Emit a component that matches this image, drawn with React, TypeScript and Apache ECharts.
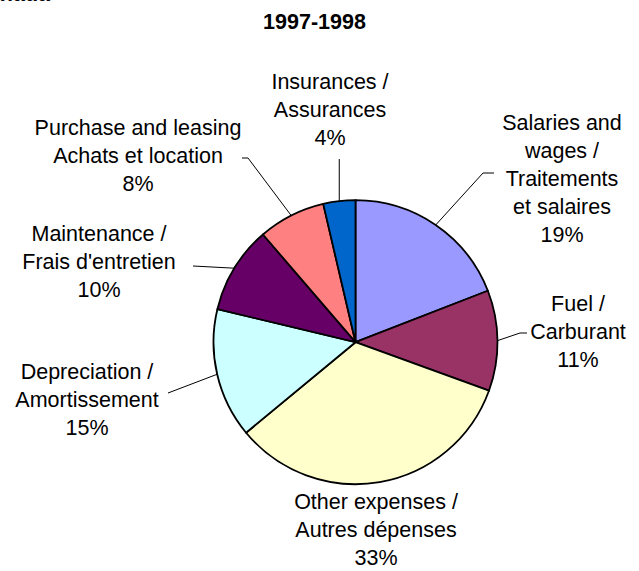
import React, { useEffect, useRef } from "react";
import * as echarts from "echarts";

const TITLE = "1997-1998";
const CUT_TITLE = "Canada";

const categories = [
  "Salaries and\nwages /\nTraitements\net salaires",
  "Fuel /\nCarburant",
  "Other expenses /\nAutres dépenses",
  "Depreciation /\nAmortissement",
  "Maintenance /\nFrais d'entretien",
  "Purchase and leasing\nAchats et location",
  "Insurances /\nAssurances",
];
const values = [19.1, 11.45, 33.45, 14.75, 9.95, 7.65, 3.65];
const colors = ["#9999FF", "#993366", "#FFFFCC", "#CCFFFF", "#660066", "#FF8080", "#0066CC"];

// label block centres and leader-line bends (layout only)
const labelPos: { x: number; y: number; line: number[][] | null; vertical?: number }[] = [
  { x: 562, y: 179, line: [[483, 173], [494, 173]] },
  { x: 578, y: 332, line: [[520, 333], [527, 333]] },
  { x: 376, y: 530, line: null },
  { x: 87, y: 399.5, line: [[168, 393]] },
  { x: 99, y: 261.5, line: [[193, 266]] },
  { x: 138, y: 156, line: [[248, 158], [242, 158]] },
  { x: 330, y: 109.5, line: [], vertical: 159 },
];

const FONT = "'Liberation Sans', Arial, Helvetica, sans-serif";

export default function App() {
  const ref = useRef<HTMLDivElement>(null);
  useEffect(() => {
    document.body.style.margin = "0";
    const chart = echarts.init(ref.current!, undefined, { renderer: "svg" });
    chart.setOption({
      animation: false,
      backgroundColor: "#ffffff",
      graphic: [
        {
          type: "text",
          x: 314.5,
          y: 22,
          style: { text: TITLE, fontFamily: FONT, fontWeight: "bold", fontSize: 21.5, fill: "#000", align: "center", verticalAlign: "middle" },
        },
        {
          type: "text",
          x: 50,
          y: -6.5,
          style: { text: CUT_TITLE, fontFamily: FONT, fontWeight: "bold", fontSize: 21.5, fill: "#000", align: "right", verticalAlign: "middle" },
        },
      ],
      series: [
        {
          type: "pie",
          center: [355.5, 342.2],
          radius: 142,
          startAngle: 90,
          clockwise: true,
          avoidLabelOverlap: false,
          itemStyle: { borderColor: "#000", borderWidth: 1.8 },
          label: {
            show: true,
            position: "outside",
            color: "#000",
            fontFamily: FONT,
            fontSize: 21.5,
            lineHeight: 28,
            align: "center",
            formatter: (p: any) => `${p.name}\n${Math.round(p.percent)}%`,
          },
          labelLine: { show: true, length: 10, length2: 10, lineStyle: { color: "#000", width: 1 } },
          emphasis: { disabled: true },
          labelLayout: (params: any) => {
            const lay = labelPos[params.dataIndex];
            const out: any = { x: lay.x, y: lay.y, align: "center", verticalAlign: "middle", hideOverlap: false };
            const pts = params.labelLinePoints;
            if (pts && lay.line) {
              const a = [pts[0][0], pts[0][1]];
              const rest = lay.vertical != null ? [[a[0], lay.vertical]] : lay.line.map((p) => [p[0], p[1]]);
              out.labelLinePoints = [a, ...rest];
            }
            return out;
          },
          data: categories.map((name, i) => ({
            name,
            value: values[i],
            itemStyle: { color: colors[i] },
            labelLine: { show: labelPos[i].line !== null },
          })),
        },
      ],
    });
    return () => chart.dispose();
  }, []);
  return <div ref={ref} style={{ width: 639, height: 571 }} />;
}
